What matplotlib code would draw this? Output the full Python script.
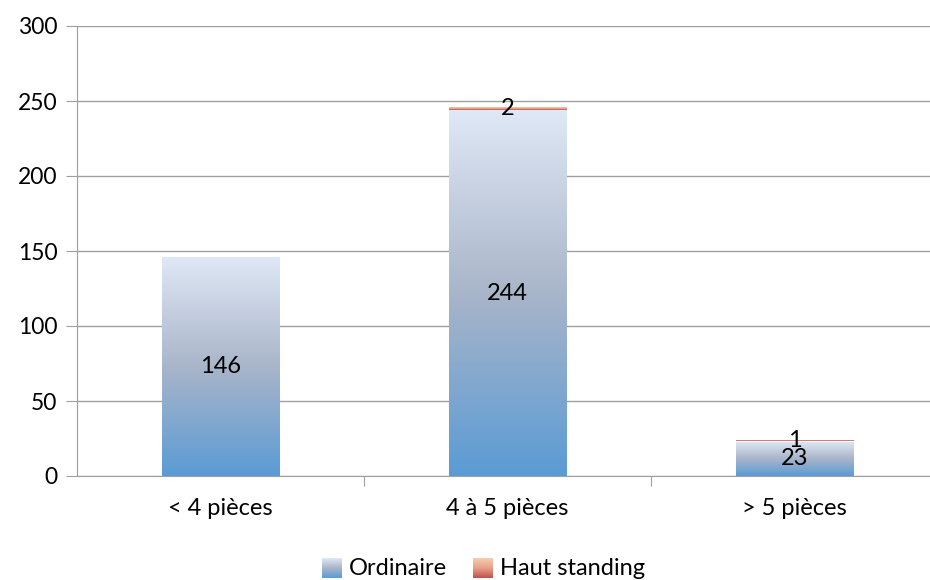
import numpy as np
import matplotlib
matplotlib.use('Agg')
import matplotlib.pyplot as plt
from matplotlib.colors import LinearSegmentedColormap
from matplotlib.patches import Patch
from matplotlib.legend_handler import HandlerBase

plt.rcParams['font.family'] = ['Lato', 'DejaVu Sans']

# --- Data ---
categories = ['< 4 pièces', '4 à 5 pièces', '> 5 pièces']
ordinaire = [146, 244, 23]
haut_standing = [0, 2, 1]
series_names = ['Ordinaire', 'Haut standing']

FS = 17

# Gradients (bottom -> top), Excel-like
cmap_ord = LinearSegmentedColormap.from_list(
    'ord', ['#5b9bd5', '#a9b5c9', '#dfe8f6'])
cmap_haut = LinearSegmentedColormap.from_list(
    'haut', ['#c0504d', '#e8a08a', '#f8cdb0'])

fig = plt.figure(figsize=(9.3, 5.8), dpi=100)
ax = fig.add_axes([77/930, 1 - 476/580, 861/930, 450/580])

x = np.arange(len(categories))
width = 0.41
grad = np.linspace(0, 1, 256).reshape(-1, 1)


def gradient_bars(bars, cmap):
    for b in bars:
        if b.get_height() <= 0:
            continue
        x0, y0 = b.get_x(), b.get_y()
        im = ax.imshow(grad, cmap=cmap, origin='lower', aspect='auto',
                       extent=[x0, x0 + b.get_width(), y0, y0 + b.get_height()],
                       zorder=2, interpolation='bilinear')
        im.set_clip_path(b)


bars_o = ax.bar(x, ordinaire, width, color='none', edgecolor='none', zorder=2)
bars_h = ax.bar(x, haut_standing, width, bottom=ordinaire, color='none',
                edgecolor='none', zorder=2)
gradient_bars(bars_o, cmap_ord)
gradient_bars(bars_h, cmap_haut)

# value labels
for i in range(len(categories)):
    ax.text(x[i], ordinaire[i] / 2, str(ordinaire[i]), ha='center',
            va='center', fontsize=FS, zorder=4)
    if haut_standing[i] > 0:
        ax.text(x[i], ordinaire[i] + haut_standing[i] / 2, str(haut_standing[i]),
                ha='center', va='center', fontsize=FS, zorder=4)

ax.set_xlim(-0.5, 2.5)
ax.set_ylim(0, 300)
ax.set_yticks(np.arange(0, 301, 50))
ax.yaxis.grid(True, color='#a0a0a0', linewidth=1)
ax.set_axisbelow(True)

for s in ['top', 'right']:
    ax.spines[s].set_visible(False)
ax.spines['left'].set_color('#a0a0a0')
ax.spines['bottom'].set_color('#a0a0a0')

ax.set_xticks([0.5, 1.5, 2.5])
ax.set_xticklabels([])
ax.set_xticks(x, minor=True)
ax.set_xticklabels(categories, minor=True, fontsize=FS)
ax.tick_params(axis='x', which='major', length=7, color='#a0a0a0', direction='out')
ax.tick_params(axis='x', which='minor', length=0, pad=16)
ax.tick_params(axis='y', length=8, color='#a0a0a0', labelsize=16.5, pad=6)


class GradHandler(HandlerBase):
    def __init__(self, cmap):
        super().__init__()
        self.cmap = cmap

    def create_artists(self, legend, orig_handle, xdescent, ydescent,
                       width, height, fontsize, trans):
        from matplotlib.image import BboxImage
        from matplotlib.transforms import Bbox, TransformedBbox
        side = 14
        bb = Bbox.from_bounds(xdescent + width - side, -ydescent - 2, side, side)
        tbb = TransformedBbox(bb, trans)
        img = BboxImage(tbb, cmap=self.cmap, origin='lower', interpolation='bilinear')
        img.set_data(grad)
        return [img]


h1, h2 = Patch(), Patch()
ax.legend([h1, h2], series_names, loc='center', bbox_to_anchor=(0.5 - 22/861, -0.205),
          ncol=2, frameon=False, fontsize=FS, handlelength=0.65,
          handletextpad=0.3, columnspacing=1.3,
          handler_map={h1: GradHandler(cmap_ord), h2: GradHandler(cmap_haut)})

fig.savefig('out.png', dpi=100)
